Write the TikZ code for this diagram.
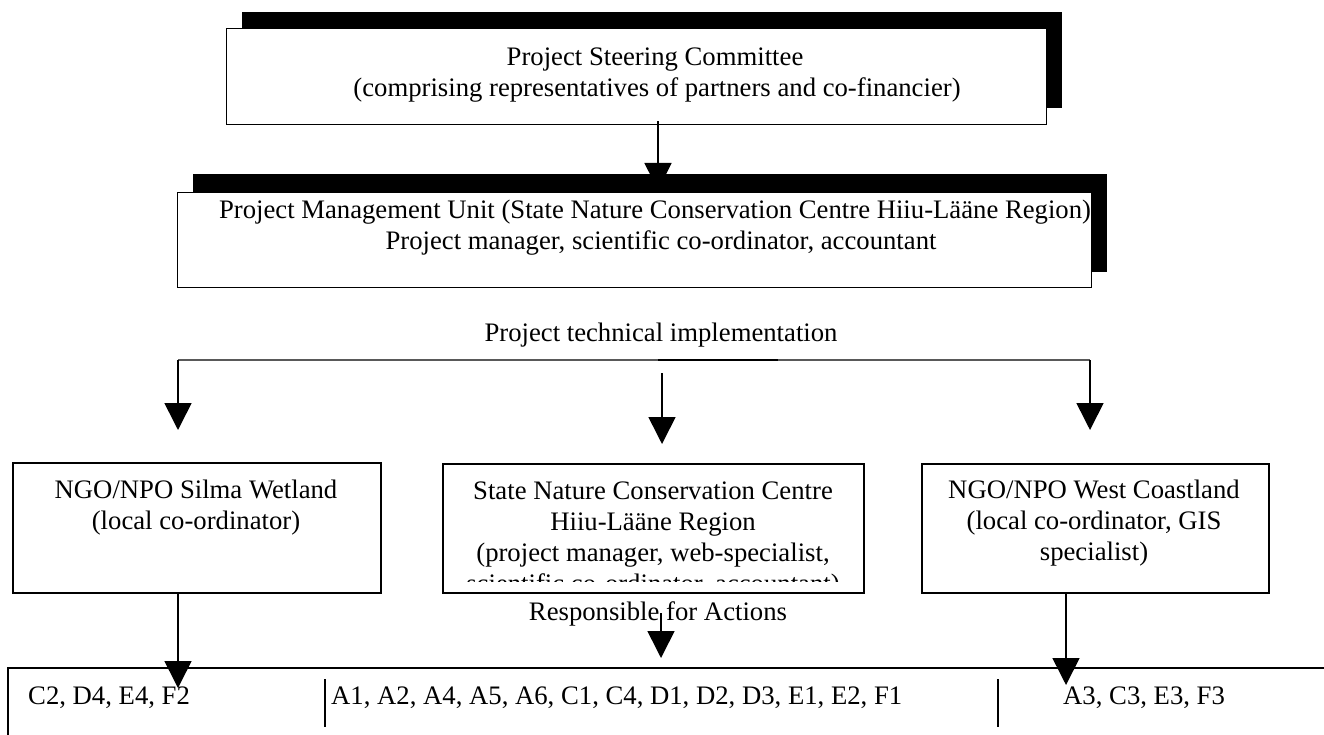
\documentclass[tikz,border=0pt]{standalone}
\usepackage{fontspec}
\setmainfont{Liberation Serif}
\usetikzlibrary{arrows.meta}
\begin{document}
\begin{tikzpicture}[x=1pt,y=-1pt,
  every node/.style={font=\fontsize{26.7}{31}\selectfont},
  panel/.style={draw, line width=1.3pt, fill=white, inner sep=0pt, anchor=north west},
  unitbox/.style={draw, line width=1.8pt, inner sep=0pt, anchor=north west},
  txt/.style={anchor=base, inner sep=0pt},
  txtl/.style={anchor=base west, inner sep=0pt},
  blk/.style={fill=black},
  arr/.style={line width=1.6pt, -{Triangle[length=27pt,width=27pt]}},
  tableline/.style={line width=1.8pt},
  divider/.style={line width=1.3pt}]
\useasboundingbox (0,0) rectangle (1324,735);

% ---- Project Steering Committee (box with solid offset shadow)
\fill[blk] (242,12) rectangle (1062,108);
\node[panel, minimum width=820pt, minimum height=96pt] (psc) at (226,28) {};
\node[txt] (pscA) at (655,66) {Project Steering Committee};
\node[txt] (pscB) at (657,97) {(comprising representatives of partners and co-financier)};

% arrow into the management unit (its tip sits under the next box)
\coordinate (pmuIn) at (658,190);
\draw[arr] ([yshift=4pt]psc.south -| pmuIn) -- (pmuIn);

% ---- Project Management Unit
\fill[blk] (193,174) rectangle (1107,272);
\node[panel, minimum width=914pt, minimum height=95pt] (pmu) at (177,192) {};
\node[txt] (pmuA) at (655,219) {Project Management Unit (State Nature Conservation Centre Hiiu-Lääne Region)};
\node[txt] (pmuB) at (661,250) {Project manager, scientific co-ordinator, accountant};

% ---- technical implementation bus
\node[txt] (impl) at (661,341) {Project technical implementation};
\coordinate (busL) at (178,360);
\coordinate (busR) at (1090,360);
\coordinate (busM) at (662,373);
\coordinate (inL) at (178,430);
\coordinate (inM) at (662,444);
\coordinate (inR) at (1090,430);
\draw[line width=1.3pt, black!65] (busL) -- (busR);
\draw[line width=1.6pt] (658,360) -- (778,360);
\draw[arr] (busL) -- (inL);
\draw[arr] (busM) -- (inM);
\draw[arr] (busR) -- (inR);

% ---- partner boxes
\node[unitbox, minimum width=368pt, minimum height=130pt] (silma) at (12,462) {};
\node[txt] (silmaA) at (196,498) {NGO/NPO Silma Wetland};
\node[txt] (silmaB) at (196,529) {(local co-ordinator)};

\node[unitbox, minimum width=421pt, minimum height=129pt] (sncc) at (442,463) {};
\node[txt] (snccA) at (653,499) {State Nature Conservation Centre};
\node[txt] (snccB) at (653,530) {Hiiu-Lääne Region};
\node[txt] (snccC) at (653,561) {(project manager, web-specialist,};
\begin{scope}
  \clip (442,463) rectangle (863,581);
  \node[txt] (snccD) at (653,592) {scientific co-ordinator, accountant)};
\end{scope}

\node[unitbox, minimum width=347pt, minimum height=129pt] (west) at (921,463) {};
\node[txt] (westA) at (1094,498) {NGO/NPO West Coastland};
\node[txt] (westB) at (1094,529) {(local co-ordinator, GIS};
\node[txt] (westC) at (1094,560) {specialist)};

% ---- actions table
\node[txt] (resp) at (658,620) {Responsible for Actions};
\coordinate (tblBL) at (8,735);
\coordinate (tblTL) at (8,668);
\coordinate (tblTR) at (1324,668);
\draw[tableline] (tblBL) -- (tblTL) -- (tblTR);
\draw[divider] (325,679) -- (325,727);
\draw[divider] (998,679) -- (998,727);

\coordinate (actL) at (178,688);
\coordinate (respM) at (661,613);
\coordinate (actM) at (661,658);
\coordinate (actR) at (1066,685);
\draw[arr] (silma.south -| actL) -- (actL);
\draw[arr] (respM) -- (actM);
\draw[arr] (west.south -| actR) -- (actR);

\node[txtl] (actsL) at (28,704) {C2, D4, E4, F2};
\node[txtl] (actsM) at (331,704) {A1, A2, A4, A5, A6, C1, C4, D1, D2, D3, E1, E2, F1};
\node[txtl] (actsR) at (1063,704) {A3, C3, E3, F3};
\end{tikzpicture}
\end{document}
